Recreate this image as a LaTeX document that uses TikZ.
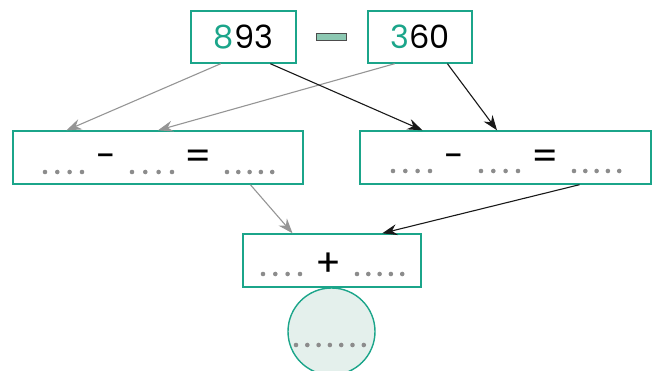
\documentclass[tikz,border=0pt]{standalone}
\usepackage{fontspec}
\setmainfont{Poppins}
\usetikzlibrary{calc,arrows.meta}
\definecolor{teal1}{HTML}{1BA58A}
\definecolor{barfill}{HTML}{8CC8B2}
\definecolor{circfill}{HTML}{E4F0EC}
\definecolor{dotc}{HTML}{8C8C8C}
\definecolor{grayarr}{HTML}{959595}
\tikzset{
  box/.style={draw=teal1, line width=1.4pt, rectangle, inner sep=0pt},
  numtext/.style={font=\fontsize{32}{32}\selectfont},
  optext/.style={inner sep=0pt},
  garrow/.style={draw=grayarr, line width=1.1pt, -{Stealth[length=15pt,width=11pt,inset=5pt]}},
  barrow/.style={draw=black!90, line width=1.1pt, -{Stealth[length=15pt,width=11pt,inset=5pt]}},
  dot/.style={fill=dotc}
}
\begin{document}
\begin{tikzpicture}[x=1pt,y=-1pt]
\useasboundingbox (0,0) rectangle (664,371);
% top boxes
\node[box, minimum width=105, minimum height=52] (A) at (243.5,37) {};
\node[numtext, anchor=base] (Atext) at (243.5,49) {\textcolor{teal1}{8}93};
\node[box, minimum width=104, minimum height=52] (B) at (420,37) {};
\node[numtext, anchor=base] (Btext) at (420,49) {\textcolor{teal1}{3}60};
\node[draw=black!70, fill=barfill, line width=0.8pt, minimum width=30, minimum height=7, inner sep=0pt] (bar) at (331,36.5) {};
% middle boxes
\node[box, minimum width=290, minimum height=53] (L) at (158,157.5) {};
\node[box, minimum width=291, minimum height=53] (R) at (505.5,157.5) {};
% bottom
\node[box, minimum width=178, minimum height=53] (S) at (332,260.5) {};
\node[circle, draw=teal1, fill=circfill, line width=1.4pt, minimum size=87, inner sep=0pt] (C) at (331.5,331.5) {};
% operators
\node[optext, font=\fontsize{36}{36}\selectfont] (Lm) at (106.5,161.5) {-};
\node[optext, font=\fontsize{38}{38}\selectfont] (Le) at (198,160) {=};
\node[optext, font=\fontsize{36}{36}\selectfont] (Rm) at (454.5,161.5) {-};
\node[optext, font=\fontsize{38}{38}\selectfont] (Re) at (545.5,160) {=};
\node[optext, font=\fontsize{38}{38}\selectfont] (Sp) at (328,265) {+};
% dots
\foreach \x in {45,57.3,69.6,82} \fill[dot] (\x,172) circle (2.3);
\foreach \x in {132,145.3,158.6,172} \fill[dot] (\x,172) circle (2.3);
\foreach \x in {227,238.3,249.6,260.9,272.2} \fill[dot] (\x,172) circle (2.3);
\foreach \x in {393,405.3,417.6,430} \fill[dot] (\x,171) circle (2.3);
\foreach \x in {481,493.3,505.6,518} \fill[dot] (\x,171) circle (2.3);
\foreach \x in {574,585.3,596.6,607.9,619.2} \fill[dot] (\x,171) circle (2.3);
\foreach \x in {263,275.3,287.6,300} \fill[dot] (\x,274) circle (2.3);
\foreach \x in {357,368.3,379.6,390.9,402.2} \fill[dot] (\x,274) circle (2.3);
\foreach \x in {296,307.3,318.6,329.9,341.2,352.5,363.8} \fill[dot] (\x,345) circle (2.3);
% connector endpoints
\coordinate (a1) at ($(A.south west)!0.286!(A.south east)$);
\coordinate (a2) at ($(A.south west)!0.752!(A.south east)$);
\coordinate (b1) at ($(B.south west)!0.26!(B.south east)$);
\coordinate (b2) at ($(B.south west)!0.76!(B.south east)$);
\coordinate (l1) at ($(L.north west)!0.186!(L.north east)$);
\coordinate (l2) at ($(L.north west)!0.5!(L.north east)$);
\coordinate (r1) at ($(R.north west)!0.216!(R.north east)$);
\coordinate (r2) at ($(R.north west)!0.471!(R.north east)$);
\coordinate (lb) at ($(L.south west)!0.817!(L.south east)$);
\coordinate (rb) at ($(R.south west)!0.753!(R.south east)$);
\coordinate (s1) at ($(S.north west)!0.28!(S.north east)$);
\coordinate (s2) at ($(S.north west)!0.78!(S.north east)$);
\draw[garrow] (a1) -- (l1);
\draw[garrow] (b1) -- (l2);
\draw[barrow] (a2) -- (r1);
\draw[barrow] (b2) -- (r2);
\draw[garrow] (lb) -- (s1);
\draw[barrow] (rb) -- (s2);
\end{tikzpicture}
\end{document}
